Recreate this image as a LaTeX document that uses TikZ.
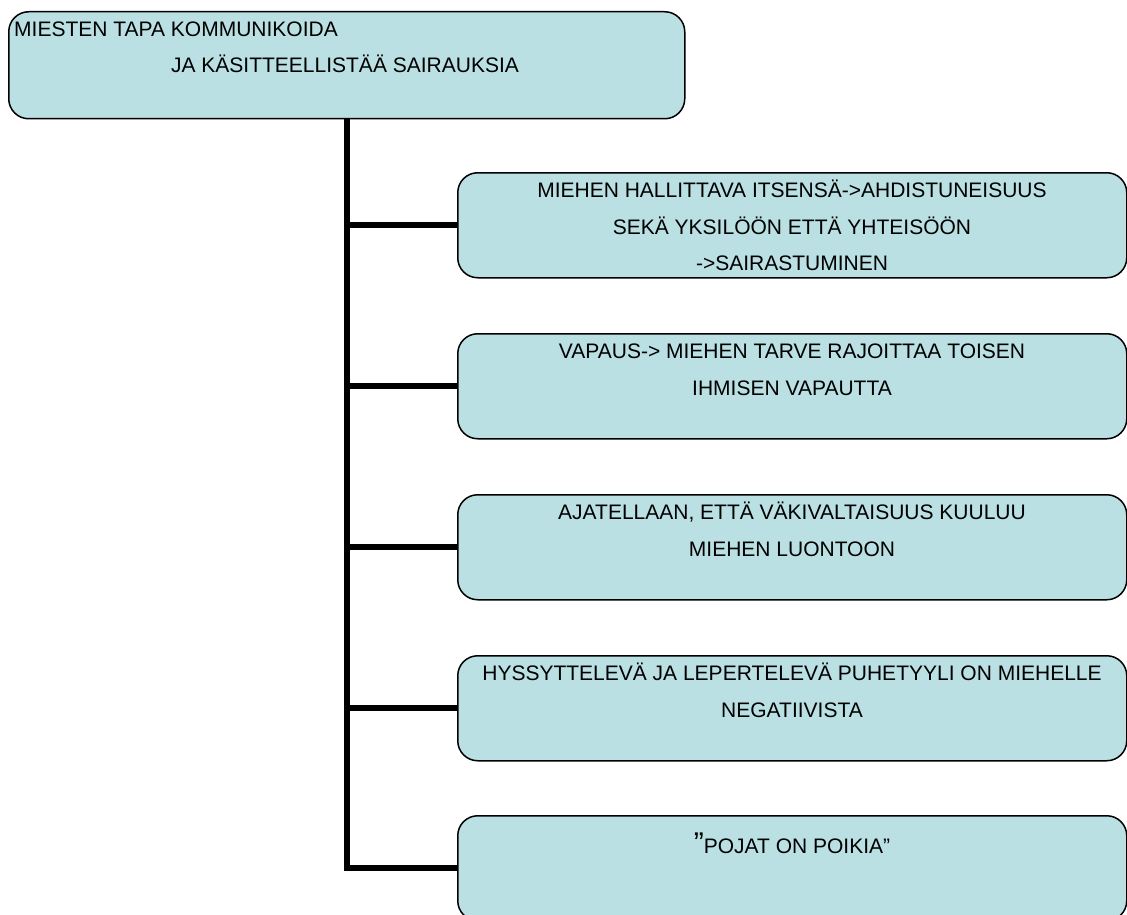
\documentclass[tikz,border=0pt]{standalone}
\usepackage{fontspec}
\setmainfont{Liberation Sans}
\usetikzlibrary{backgrounds}
\definecolor{boxfill}{RGB}{186,224,227}
\begin{document}
\begin{tikzpicture}[x=1pt,y=1pt,
  box/.style={draw=black, line width=1.5pt, fill=boxfill, rounded corners=20pt, inner sep=0pt, anchor=north west},
  rbox/.style={box, minimum width=669pt, minimum height=105pt},
  conn/.style={draw=black, line width=6pt},
  txt/.style={font=\fontsize{21}{24}\selectfont, anchor=base, inner sep=0pt}]
\clip (0,0) rectangle (1127,-915);
\useasboundingbox (0,0) rectangle (1127,-915);
% boxes
\node[box, minimum width=676pt, minimum height=107pt] (top) at (8,-11) {};
\node[rbox] (r1) at (457,-172) {};
\node[rbox] (r2) at (457,-333) {};
\node[rbox] (r3) at (457,-494) {};
\node[rbox] (r4) at (457,-655) {};
\node[rbox] (r5) at (457,-815) {};
% connectors (behind boxes)
\begin{scope}[on background layer]
\draw[conn] (top.south) |- (r5.west);
\draw[conn] (r1.west -| top.south) -- (r1.west);
\draw[conn] (r2.west -| top.south) -- (r2.west);
\draw[conn] (r3.west -| top.south) -- (r3.west);
\draw[conn] (r4.west -| top.south) -- (r4.west);
\end{scope}
% texts
\node[txt, anchor=base west] (t1a) at (14,-37) {MIESTEN TAPA KOMMUNIKOIDA};
\node[txt] (t1b) at (345,-73) {JA KÄSITTEELLISTÄÄ SAIRAUKSIA};
\node[txt] (a1) at (792,-197) {MIEHEN HALLITTAVA ITSENSÄ->AHDISTUNEISUUS};
\node[txt] (a2) at (792,-234) {SEKÄ YKSILÖÖN ETTÄ YHTEISÖÖN};
\node[txt] (a3) at (792,-270) {->SAIRASTUMINEN};
\node[txt] (b1) at (792,-358) {VAPAUS-> MIEHEN TARVE RAJOITTAA TOISEN};
\node[txt] (b2) at (792,-395) {IHMISEN VAPAUTTA};
\node[txt] (c1) at (792,-519) {AJATELLAAN, ETTÄ VÄKIVALTAISUUS KUULUU};
\node[txt] (c2) at (792,-556) {MIEHEN LUONTOON};
\node[txt] (d1) at (792,-680) {HYSSYTTELEVÄ JA LEPERTELEVÄ PUHETYYLI ON MIEHELLE};
\node[txt] (d2) at (792,-717) {NEGATIIVISTA};
\node[txt] (e1) at (792,-853) {{\fontsize{30}{30}\selectfont ”}POJAT ON POIKIA”};
\end{tikzpicture}
\end{document}
